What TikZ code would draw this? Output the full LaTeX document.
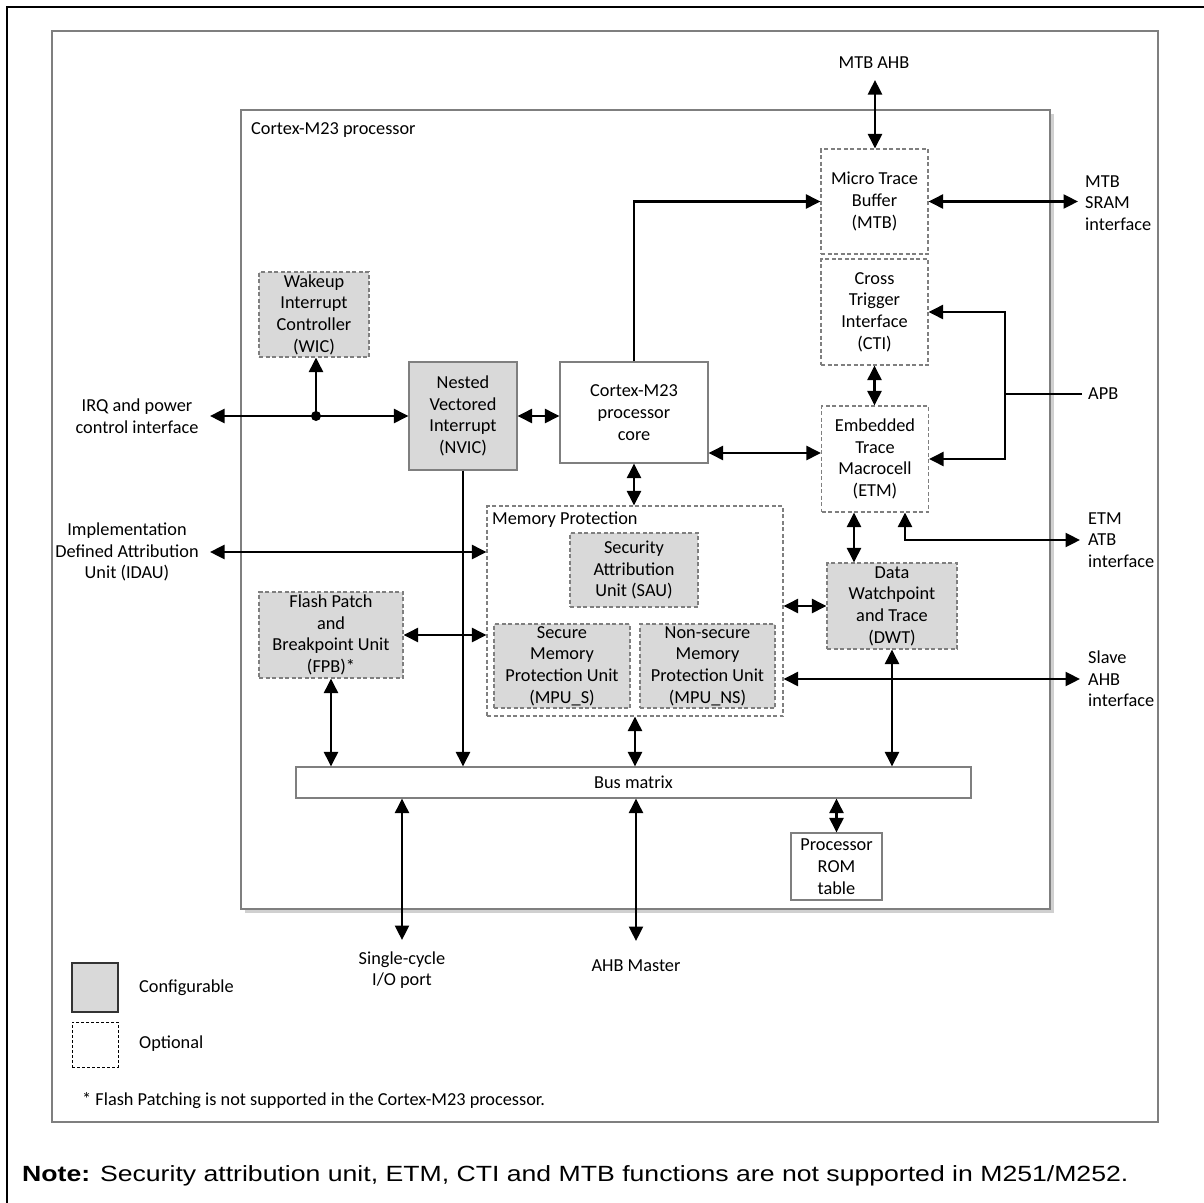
\documentclass[tikz,border=0pt]{standalone}
\usepackage{fontspec}
\setmainfont{Carlito}
\newfontfamily\notefont{Liberation Sans}[FakeStretch=1.21]
\usetikzlibrary{arrows.meta}
\definecolor{cfggray}{HTML}{D9D9D9}
\definecolor{bordergray}{HTML}{7F7F7F}
\definecolor{shadowgray}{HTML}{D0D0D0}
\tikzset{
  txt/.style={font=\fontsize{18.3}{21.7}\selectfont, inner sep=0pt, align=center},
  blk/.style={txt, draw=bordergray, line width=1.2pt, fill=white},
  cfg/.style={blk, fill=cfggray},
  optl/.style={dash pattern=on 4pt off 2.5pt},
  frame/.style={draw=bordergray, line width=1.3pt, inner sep=0pt},
  conn/.style={line width=2.5pt},
  lbl/.style={txt},
  lbll/.style={txt, anchor=west, align=left},
}
\begin{document}
\begin{tikzpicture}[x=1pt,y=-1pt,>={Triangle[length=14.5pt,width=14pt]}]
\useasboundingbox (0,0) rectangle (1203,1203);
\draw[line width=2.6pt] (7,7) rectangle (1260,1260);
% frames
\node[frame, minimum width=1106, minimum height=1091] (outer) at (605,576.5) {};
\fill[shadowgray] (245,114) rectangle (1054,913);
\node[frame, fill=white, minimum width=809, minimum height=799] (proc) at (645.5,509.5) {};
\node[lbll] (proclbl) at (251,130) {Cortex-M23 processor};
% blocks
\node[cfg, optl, minimum width=110, minimum height=85] (WIC) at (314,314.5) {Wakeup\\Interrupt\\Controller\\(WIC)};
\node[cfg, minimum width=108, minimum height=108] (NVIC) at (463,416) {Nested\\Vectored\\Interrupt\\(NVIC)};
\node[blk, minimum width=148, minimum height=101] (core) at (634,412.5) {Cortex-M23\\processor\\core};
\node[blk, optl, minimum width=107, minimum height=105] (MTB) at (874.5,201.5) {Micro Trace\\Buffer\\(MTB)};
\node[blk, optl, minimum width=107, minimum height=106] (CTI) at (874.5,312) {Cross\\Trigger\\Interface\\(CTI)};
\node[blk, optl, minimum width=107, minimum height=106] (ETM) at (875,459) {Embedded\\Trace\\Macrocell\\(ETM)};
\node[cfg, optl, minimum width=130, minimum height=86] (DWT) at (892,606) {Data\\Watchpoint\\and Trace\\(DWT)};
\node[blk, optl, minimum width=296, minimum height=210] (MP) at (635,611) {};
\node[lbll] (mplbl) at (492,520) {Memory Protection};
\node[cfg, optl, minimum width=128, minimum height=74] (SAU) at (634,570) {Security\\Attribution\\Unit (SAU)};
\node[cfg, optl, minimum width=136, minimum height=84] (MPUS) at (562,666) {Secure\\Memory\\Protection Unit\\(MPU\_S)};
\node[cfg, optl, minimum width=135, minimum height=84] (MPUNS) at (707.5,666) {Non-secure\\Memory\\Protection Unit\\(MPU\_NS)};
\node[cfg, optl, minimum width=144, minimum height=86] (FPB) at (331,635) {Flash Patch\\and\\Breakpoint Unit\\(FPB)*};
\node[blk, minimum width=675, minimum height=31] (bus) at (633.5,782.5) {Bus matrix};
\node[blk, minimum width=91, minimum height=67] (ROM) at (836.5,866.5) {Processor\\ROM\\table};
% external labels
\node[lbl] (lmtbahb) at (874,63) {MTB AHB};
\node[lbll] (lsram) at (1085,203) {MTB\\SRAM\\interface};
\node[lbll] (lapb) at (1088,394) {APB};
\node[lbll] (latb) at (1088,540) {ETM\\ATB\\interface};
\node[lbll] (lslave) at (1088,679) {Slave\\AHB\\interface};
\node[lbl] (lirq) at (137,416) {IRQ and power\\control interface};
\node[lbl] (lidau) at (127,552) {Implementation\\Defined Attribution\\Unit (IDAU)};
\node[lbl] (lsc) at (402,970) {Single-cycle\\I/O port};
\node[lbl] (lahbm) at (636,966) {AHB Master};
% connector end points
\coordinate (mtbahb) at (875,80);
\coordinate (sram) at (1078,201.5);
\coordinate (apb) at (1082,394);
\coordinate (apbj) at (1005,394);
\coordinate (atb) at (1080,540);
\coordinate (slave) at (1080,679);
\coordinate (irq) at (210,416);
\coordinate (junc) at (316,416);
\coordinate (idau) at (210,552);
\coordinate (sc) at (402,940);
\coordinate (ahbm) at (636,941);
% connectors
\draw[conn,<->] (mtbahb) -- (mtbahb |- MTB.north);
\draw[conn,<->] (MTB.east) -- (sram);
\draw[conn,->] (core.north) |- (MTB.west);
\draw[conn,<->] (CTI.south) -- (CTI.south |- ETM.north);
\draw[conn] (apb) -- (apbj);
\draw[conn,->] (apbj) |- (CTI.east);
\draw[conn,->] (apbj) |- (ETM.east);
\draw[conn,<->] (core.east |- 0,453) -- (ETM.west |- 0,453);
\draw[conn,<->] (NVIC.east) -- (core.west |- NVIC.east);
\draw[conn,<->] (irq) -- (NVIC.west);
\fill (junc) circle[radius=5pt];
\draw[conn,->] (junc) -- (junc |- WIC.south);
\draw[conn,<->] (core.south) -- (core.south |- MP.north);
\draw[conn,<->] (idau) -- (MP.west |- idau);
\draw[conn,->] (NVIC.south) -- (NVIC.south |- bus.north);
\draw[conn,<->] (FPB.east) -- (MP.west |- FPB.east);
\draw[conn,<->] (FPB.south) -- (FPB.south |- bus.north);
\draw[conn,<->] (854,0 |- ETM.south) -- (854,0 |- DWT.north);
\draw[conn,<->] (905,0 |- ETM.south) |- (atb);
\draw[conn,<->] (MP.east |- DWT.west) -- (DWT.west);
\draw[conn,<->] (MP.east |- slave) -- (slave);
\draw[conn,<->] (DWT.south) -- (DWT.south |- bus.north);
\draw[conn,<->] (MP.south) -- (MP.south |- bus.north);
\draw[conn,<->] (ROM.north |- bus.south) -- (ROM.north);
\draw[conn,<->] (sc |- bus.south) -- (sc);
\draw[conn,<->] (ahbm |- bus.south) -- (ahbm);
% legend
\node[cfg, draw=black!80, minimum width=46, minimum height=49] (legcfg) at (95,987.5) {};
\node[lbll] (legcfgl) at (139,988) {Configurable};
\node[draw=black, line width=0.8pt, dash pattern=on 3pt off 2pt, minimum width=46, minimum height=45, inner sep=0pt] (legopt) at (95,1044.5) {};
\node[lbll] (legoptl) at (139,1044) {Optional};
\node[lbll] (foot) at (82,1101) {* Flash Patching is not supported in the Cortex-M23 processor.};
\node[anchor=west, inner sep=0pt, font=\notefont\fontsize{22}{26}\selectfont] (note) at (22,1176) {\textbf{Note:} Security attribution unit, ETM, CTI and MTB functions are not supported in M251/M252.};
\end{tikzpicture}
\end{document}
